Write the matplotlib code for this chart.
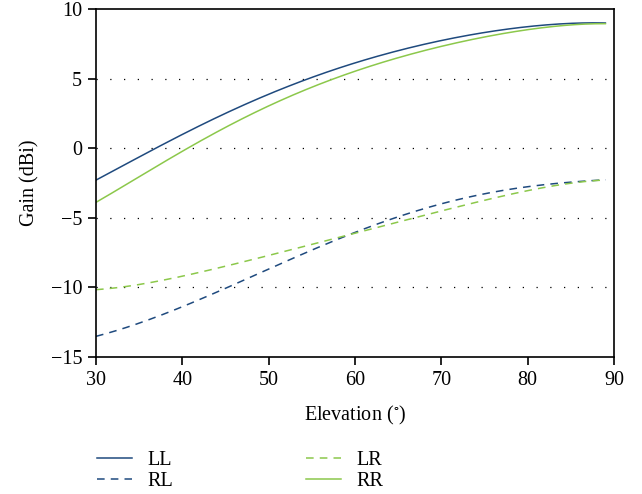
import matplotlib
matplotlib.use("Agg")
import matplotlib.pyplot as plt
import numpy as np

plt.rcParams['font.family'] = ['Liberation Serif', 'DejaVu Serif']
plt.rcParams['mathtext.fontset'] = 'stix'

# Elevation angles (degrees) and gain curves (dBi)
elevation = [30, 35, 40, 45, 50, 55, 60, 65, 70, 75, 80, 85, 89]
gain_ll = [-2.3, -0.6, 0.95, 2.5, 3.9, 5.1, 6.1, 7.0, 7.75, 8.3, 8.75, 8.95, 9.0]
gain_rl = [-13.55, -12.5, -11.35, -10.1, -8.9, -7.2, -5.85, -4.95, -4.15, -3.3, -2.7, -2.4, -2.3]
gain_lr = [-10.2, -9.7, -9.2, -8.55, -7.8, -6.8, -6.0, -5.35, -4.6, -3.75, -3.0, -2.5, -2.3]
gain_rr = [-3.9, -2.0, -0.3, 1.5, 3.1, 4.4, 5.45, 6.5, 7.35, 8.0, 8.5, 8.85, 8.95]

xticks = [30, 40, 50, 60, 70, 80, 90]
yticks = [-15, -10, -5, 0, 5, 10]

blue = '#1f4a7e'
green = '#8cc84b'

fig = plt.figure(figsize=(6.42, 4.94), dpi=100)
ax = fig.add_axes([0.1495, 0.2773, 0.8069, 0.7045])

xs = np.linspace(30, 89, 200)
def smooth(y):
    # polynomial fit through the sampled points for a clean curve
    c = np.polyfit(elevation, y, 5)
    return np.polyval(c, xs)

ax.plot(xs, smooth(gain_ll), color=blue, lw=1.1, label='LL')
ax.plot(xs, smooth(gain_rl), color=blue, lw=1.1, ls=(0, (5, 4)), label='RL')
ax.plot(xs, smooth(gain_lr), color=green, lw=1.1, ls=(0, (5, 4)), label='LR')
ax.plot(xs, smooth(gain_rr), color=green, lw=1.1, label='RR')

for yv in [5, 0, -5, -10]:
    ax.axhline(yv, color='black', lw=0.9, ls=(0, (1, 10)), zorder=0)

ax.set_xlim(30, 90)
ax.set_ylim(-15, 10)
ax.set_xticks(xticks)
ax.set_yticks(yticks)
ax.set_yticklabels([f'\u2212{-v}' if v < 0 else str(v) for v in yticks])
ax.tick_params(direction='out', length=6, width=1.2, labelsize=14.5, pad=4)
for s in ax.spines.values():
    s.set_linewidth(1.2)

ax.set_xlabel('Elevation ($^{\\circ}$)', fontsize=14.5, labelpad=10)
ax.set_ylabel('Gain (dBi)', fontsize=14.5, labelpad=8)

handles, labels = ax.get_legend_handles_labels()
fig.legend(handles, labels, ncol=2, loc='upper left', bbox_to_anchor=(0.151, 0.088),
           frameon=False, fontsize=14.5, handlelength=1.75, columnspacing=6.6,
           labelspacing=0.1, handletextpad=0.75, borderaxespad=0, borderpad=0)

fig.savefig('out.png', dpi=100)
